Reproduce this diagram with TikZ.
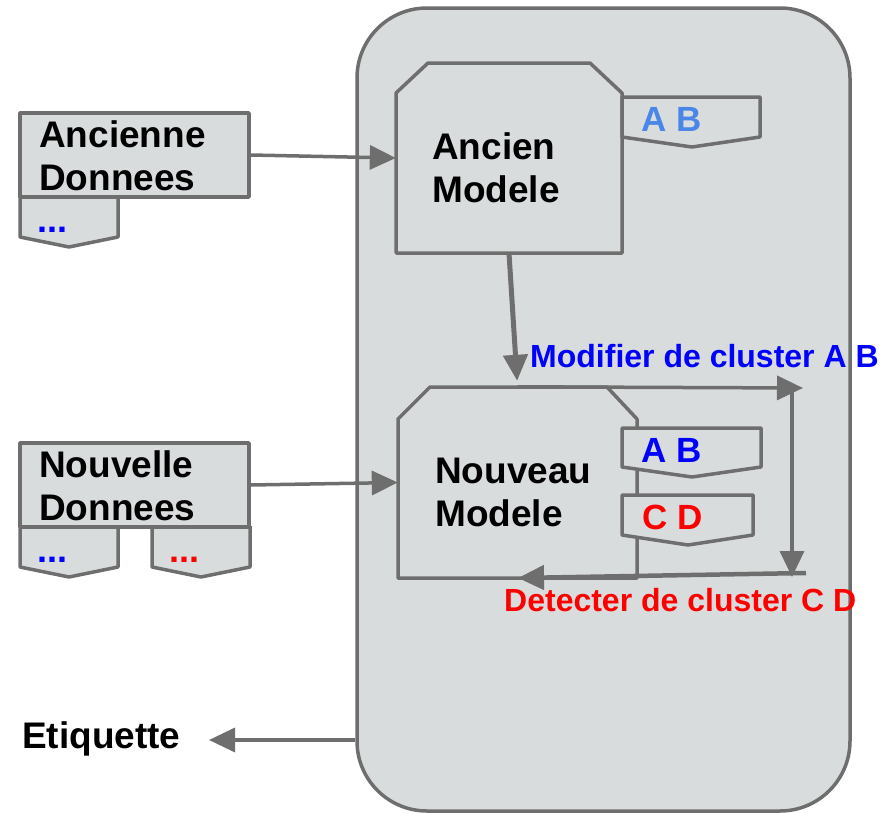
\documentclass[tikz,border=0pt]{standalone}
\usepackage{fontspec}
\setmainfont{Liberation Sans}
\usetikzlibrary{arrows.meta,calc}
\definecolor{linegray}{RGB}{110,110,110}
\definecolor{boxgray}{RGB}{217,220,221}
\definecolor{lightblue}{RGB}{74,134,232}
\begin{document}
\begin{tikzpicture}[x=1pt,y=-1pt,
  shapebox/.style={draw=linegray,fill=boxgray,line width=3.5pt,line join=round},
  lbl/.style={inner sep=0pt,font=\fontsize{37}{43}\selectfont\bfseries,align=left,anchor=base west},
  taglbl/.style={inner sep=0pt,font=\fontsize{35}{40}\selectfont\bfseries,anchor=base west},
  dots/.style={inner sep=0pt,font=\fontsize{36}{43}\selectfont\bfseries,anchor=base west},
  flowlbl/.style={inner sep=0pt,font=\fontsize{32}{36}\selectfont\bfseries,anchor=base west},
  arr/.style={draw=linegray,line width=3.5pt,-{Triangle[length=26pt,width=24pt]}}
]
\useasboundingbox (0,0) rectangle (879,814);
% main container
\node[shapebox,rounded corners=70pt,minimum width=493pt,minimum height=803pt,inner sep=0pt] (main) at (603.5,409.5) {};

% Ancienne Donnees
\draw[shapebox] (20,196) -- (20,237) -- (69,247) -- (118,237) -- (118,196);
\node[shapebox,minimum width=229pt,minimum height=84pt,inner sep=0pt] (anc) at (134.5,155) {};
\node[lbl] (anct) at (39,190) {Ancienne\\Donnees};
\node[dots,text=blue] (ancd) at (37,232) {...};

% Nouvelle Donnees
\draw[shapebox] (20,526) -- (20,567) -- (69,577) -- (118,567) -- (118,526);
\draw[shapebox] (152,526) -- (152,567) -- (201,577) -- (250,567) -- (250,526);
\node[shapebox,minimum width=229pt,minimum height=84pt,inner sep=0pt] (nou) at (134.5,485) {};
\node[lbl] (nout) at (39,520) {Nouvelle\\Donnees};
\node[dots,text=blue] (noud1) at (37,562) {...};
\node[dots,text=red] (noud2) at (169,562) {...};

% Ancien Modele
\draw[shapebox] (396,93) -- (428,63) -- (590,63) -- (622,93) -- (622,253) -- (396,253) -- cycle;
\node[draw=none,minimum width=226pt,minimum height=190pt,inner sep=0pt] (am) at (509,158) {};
\node[lbl] (amt) at (432,202) {Ancien\\Modele};
\draw[shapebox] (622,97) -- (760,97) -- (760,137) -- (692,147) -- (622,137) -- cycle;
\node[taglbl,text=lightblue] (amab) at (641,131) {A B};

% Nouveau Modele
\draw[shapebox] (398,419) -- (430,387) -- (607,387) -- (637,419) -- (637,578) -- (398,578) -- cycle;
\node[draw=none,minimum width=239pt,minimum height=191pt,inner sep=0pt] (nm) at (517.5,482.5) {};
\node[lbl] (nmt) at (435,526) {Nouveau\\Modele};
\draw[shapebox] (622,428) -- (761,428) -- (761,467) -- (692,477) -- (622,467) -- cycle;
\node[taglbl,text=blue] (nmab) at (641,462) {A B};
\draw[shapebox] (622,495) -- (753,495) -- (753,535) -- (688,545) -- (622,535) -- cycle;
\node[taglbl,text=red] (nmcd) at (642,529) {C D};

% connectors
\draw[arr] (anc.east) -- (am.west);
\draw[arr] (nou.east) -- (nm.west);
\draw[arr,line width=5pt,shorten >=6pt] (am.south) -- (nm.north);

\coordinate (mtip) at (803,388);
\coordinate (vtop) at (792,389);
\coordinate (vbot) at (792,577);
\coordinate (dstart) at (806,573);
\coordinate (dtip) at (518,578);
\draw[arr] (nm.north) -- (mtip);
\draw[arr] (vtop) -- (vbot);
\draw[arr,line width=4.5pt] (dstart) -- (dtip);

\node[flowlbl,text=blue] (modl) at (530,367) {Modifier de cluster A B};
\node[flowlbl,text=red] (detl) at (504,611) {Detecter de cluster C D};

% Etiquette
\node[lbl] (et) at (22,748) {Etiquette};
\coordinate (etip) at (209,740);
\draw[arr] (main.west |- etip) -- (etip);
\end{tikzpicture}
\end{document}
